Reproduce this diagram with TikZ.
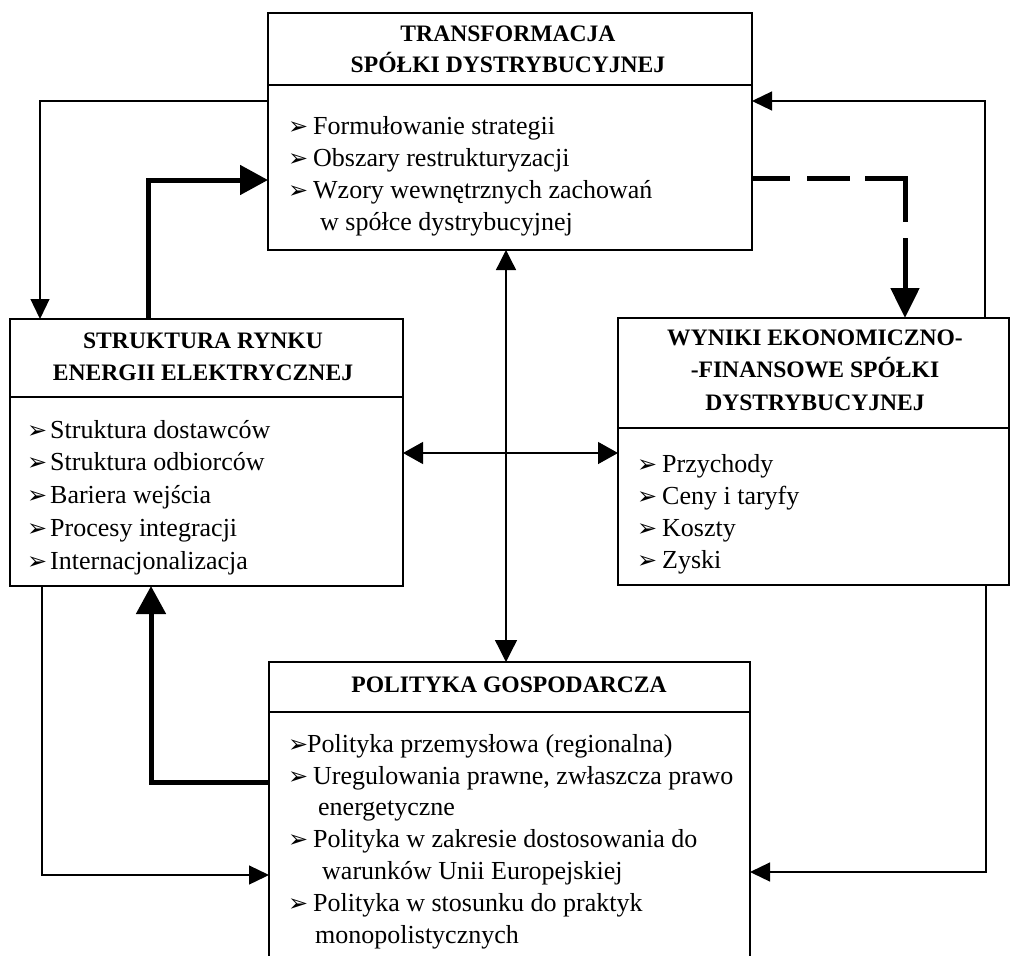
\documentclass[tikz,border=0pt]{standalone}
\usepackage{fontspec}
\setmainfont{Liberation Serif}
\newfontfamily\dingfont{DejaVu Sans}
\usetikzlibrary{arrows.meta,calc}
\newcommand\bul[1]{\makebox[#1pt][l]{\dingfont\fontsize{24}{24}\selectfont ➢}}
\begin{document}
\begin{tikzpicture}[x=1pt,y=-1pt,
  box/.style={draw, line width=1.6pt, inner sep=0pt, outer sep=0pt},
  divline/.style={line width=1.6pt},
  head/.style={font=\bfseries\fontsize{23.6}{31.5}\selectfont, align=center, inner sep=0pt},
  items/.style={font=\fontsize{26}{32}\selectfont, align=left, inner sep=0pt},
  thinarr/.style={line width=1.3pt, -{Triangle[length=20pt,width=19pt]}},
  thickarr/.style={line width=5pt, -{Triangle[length=28pt,width=29pt]}},
  dasharr/.style={line width=5pt, dash pattern=on 38pt off 17pt on 43pt off 15pt on 84pt off 16pt on 200pt off 0pt, -{Triangle[length=30pt,width=28pt]}},
  dblarr/.style={line width=1.3pt}
]
\useasboundingbox (0,0) rectangle (1011,955);

% boxes
\node[box, minimum width=484pt, minimum height=237pt] (T) at (510,131.5) {};
\node[box, minimum width=393pt, minimum height=267pt] (L) at (206.5,452.5) {};
\node[box, minimum width=391pt, minimum height=267pt] (R) at (813.5,451.5) {};
\node[box, minimum width=481pt, minimum height=338pt] (B) at (509.5,831) {};

% dividers
\draw[divline] (T.west |- 0,85) -- (T.east |- 0,85);
\draw[divline] (L.west |- 0,397) -- (L.east |- 0,397);
\draw[divline] (R.west |- 0,428) -- (R.east |- 0,428);
\draw[divline] (B.west |- 0,712) -- (B.east |- 0,712);

% headers (anchor base = baseline of last line)
\node[head, anchor=base] (Th) at (508,73) {TRANSFORMACJA\\SPÓŁKI DYSTRYBUCYJNEJ};
\node[head, anchor=base] (Lh) at (203,380) {STRUKTURA RYNKU\\ENERGII ELEKTRYCZNEJ};
\node[head, anchor=base, font=\bfseries\fontsize{23.6}{32.5}\selectfont] (Rh) at (815,410) {WYNIKI EKONOMICZNO-\\-FINANSOWE SPÓŁKI\\DYSTRYBUCYJNEJ};
\node[head, anchor=base] (Bh) at (509,692) {POLITYKA GOSPODARCZA};

% item lists (anchor base = baseline of last line)
\node[items, anchor=base west] (Ti) at (288,230) {\bul{25}Formułowanie strategii\\\bul{25}Obszary restrukturyzacji\\\bul{25}Wzory wewnętrznych zachowań\\\hspace*{32pt}w spółce dystrybucyjnej};
\node[items, anchor=base west, font=\fontsize{26}{32.7}\selectfont] (Li) at (27,569) {\bul{23}Struktura dostawców\\\bul{23}Struktura odbiorców\\\bul{23}Bariera wejścia\\\bul{23}Procesy integracji\\\bul{23}Internacjonalizacja};
\node[items, anchor=base west] (Ri) at (637,568) {\bul{25}Przychody\\\bul{25}Ceny i taryfy\\\bul{25}Koszty\\\bul{25}Zyski};
\node[items, anchor=base west, font=\fontsize{26}{31.8}\selectfont] (Bi) at (288,943) {\bul{19}Polityka przemysłowa (regionalna)\\\bul{25}Uregulowania prawne, zwłaszcza prawo\\\hspace*{30pt}energetyczne\\\bul{25}Polityka w zakresie dostosowania do\\\hspace*{34pt}warunków Unii Europejskiej\\\bul{25}Polityka w stosunku do praktyk\\\hspace*{27pt}monopolistycznych};

% connectors
\draw[thinarr] (T.west |- 0,101) -| (L.north -| 40,0);
\draw[thickarr] (L.north -| 148,0) |- (T.west |- 0,180);
\draw[thinarr] (R.north -| 985,0) |- (T.east |- 0,101);
\draw[dasharr] (T.east |- 0,178) -| (R.north -| 905,0);
\draw[dblarr, {Triangle[length=20pt,width=20pt]}-{Triangle[length=22pt,width=22pt]}] (T.south -| 506,0) -- (B.north -| 506,0);
\draw[dblarr, {Triangle[length=20pt,width=22pt]}-{Triangle[length=20pt,width=22pt]}] (L.east |- 0,453) -- (R.west |- 0,453);
\draw[thickarr] (B.west |- 0,782) -| (L.south -| 151,0);
\draw[thinarr] (L.south -| 42,0) |- (B.west |- 0,875);
\draw[thinarr] (R.south -| 986,0) |- (B.east |- 0,872);
\end{tikzpicture}
\end{document}
